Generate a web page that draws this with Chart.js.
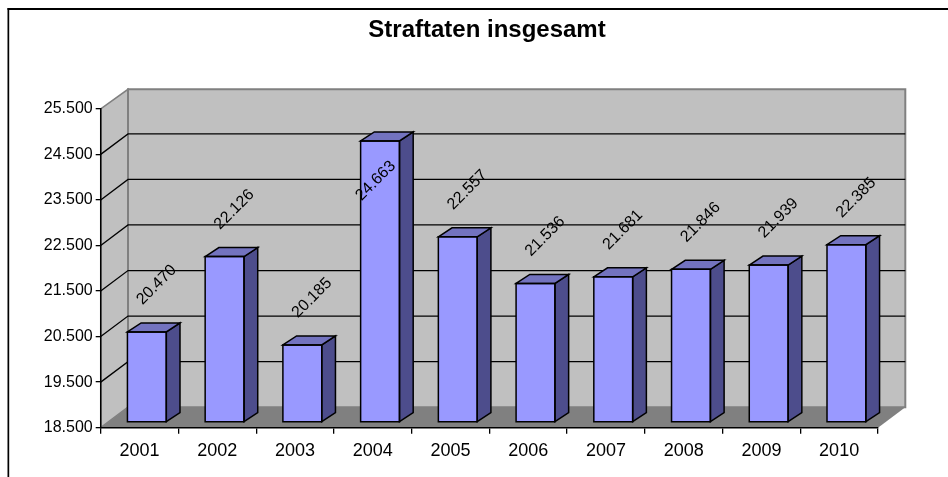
<!DOCTYPE html>
<html><head><meta charset="utf-8">
<style>html,body{margin:0;padding:0;background:#fff}#w{width:948px;height:477px}canvas{display:block}</style>
<script src="https://cdn.jsdelivr.net/npm/chart.js@4/dist/chart.umd.min.js"></script>
</head><body><div id="w"><canvas id="c" width="948" height="477"></canvas></div>
<script>
const titleText = "Straftaten insgesamt";
const years = ["2001","2002","2003","2004","2005","2006","2007","2008","2009","2010"];
const offences = [20470,22126,20185,24663,22557,21536,21681,21846,21939,22385];
const axisMin = 18500, axisMax = 25500, axisStep = 1000;

const fmt = v => String(v).replace(/(\d)(?=(\d{3})$)/, "$1.");
const WALL = {dx:27.3, dy:-20.5};
const BAR = {dx:7.3, dy:-6, sx:13.7, sy:-9};
const FONT = '"Liberation Sans", Arial, sans-serif';

function poly(ctx, pts, fill, stroke, lw){
  ctx.beginPath();
  pts.forEach((p,i)=> i?ctx.lineTo(p[0],p[1]):ctx.moveTo(p[0],p[1]));
  ctx.closePath();
  if(fill){ctx.fillStyle=fill;ctx.fill();}
  if(stroke){ctx.strokeStyle=stroke;ctx.lineWidth=lw||1;ctx.lineJoin='miter';ctx.stroke();}
}
const stage = {
  id:'stage',
  beforeDraw(chart){
    const {ctx,scales:{x,y}} = chart;
    const L=x.left,R=x.right,T=y.getPixelForValue(axisMax),B=y.getPixelForValue(axisMin);
    const {dx,dy}=WALL;
    const wallTop=T+dy+1;
    ctx.save();
    ctx.fillStyle='#000';
    ctx.fillRect(7.5,8,940.5,2);
    ctx.fillRect(7.5,8,1.7,469);
    poly(ctx,[[L,B],[L+dx,B+dy],[L+dx,wallTop],[L,T]],'#C0C0C0','#808080',1.5);
    poly(ctx,[[L+dx,B+dy],[L+dx,wallTop],[R+dx,wallTop],[R+dx,B+dy]],'#C0C0C0','#808080',2);
    poly(ctx,[[L,B],[L+dx,B+dy],[R+dx,B+dy],[R,B]],'#808080');
    ctx.strokeStyle='#000';ctx.lineWidth=1.3;
    for(let v=axisMin+axisStep;v<axisMax;v+=axisStep){
      const p=y.getPixelForValue(v);
      ctx.beginPath();ctx.moveTo(L,p);ctx.lineTo(L+dx,p+dy);ctx.lineTo(R+dx,p+dy);ctx.stroke();
    }
    ctx.restore();
  },
  beforeDatasetsDraw(chart){
    chart.ctx.save();
    chart.ctx.translate(BAR.dx,BAR.dy);
  },
  afterDatasetsDraw(chart){
    const {ctx}=chart;
    ctx.restore();
    const meta=chart.getDatasetMeta(0);
    const base=chart.scales.y.getPixelForValue(axisMin)+BAR.dy;
    const chartTop=chart.scales.y.getPixelForValue(axisMax);
    ctx.save();
    meta.data.forEach(b=>{
      const l=b.x-b.width/2+BAR.dx, r=b.x+b.width/2+BAR.dx, t=b.y+BAR.dy;
      const {sx,sy}=BAR;
      poly(ctx,[[r,t],[r+sx,t+sy],[r+sx,base+sy],[r,base]],'#4D4D8C','#000',1.5);
      poly(ctx,[[l,t],[l+sx,t+sy],[r+sx,t+sy],[r,t]],'#7373BF','#000',1.5);
      poly(ctx,[[l,t],[r,t],[r,base],[l,base]],null,'#000',1.5);
    });
    meta.data.forEach((b,i)=>{
      // a label that would leave the plot stays inside, over its bar
      const above=b.y+BAR.dy-47;
      const inside=above-30<chartTop;
      ctx.save();
      ctx.translate(inside?b.x+3:b.x+17, inside?b.y+BAR.dy+40:above);
      ctx.rotate(-Math.PI/4);
      ctx.font='16px '+FONT;
      ctx.fillStyle='#000';ctx.textAlign='center';ctx.textBaseline='middle';
      ctx.fillText(fmt(offences[i]),0,0);
      ctx.restore();
    });
    ctx.restore();
  }
};

new Chart(document.getElementById('c'),{
  type:'bar',
  data:{labels:years,datasets:[{data:offences,base:axisMin,clip:false,backgroundColor:'#9999FF',borderWidth:0,
        barPercentage:0.5,categoryPercentage:1}]},
  plugins:[stage],
  options:{
    responsive:false,animation:false,
    layout:{padding:{left:26,right:0,top:0,bottom:0}},
    plugins:{
      legend:{display:false},tooltip:{enabled:false},
      title:{display:true,text:titleText,color:'#000',font:{family:FONT,size:24,weight:'bold'},
             padding:{top:16,bottom:64}}
    },
    scales:{
      x:{type:'category',offset:true,
         afterFit:s=>{s.height=49.3;},
         grid:{display:true,offset:true,drawOnChartArea:false,drawTicks:true,tickLength:6,tickColor:'#000',color:'#000',lineWidth:1.3},
         border:{display:true,color:'#000',width:1.5},
         ticks:{color:'#000',font:{family:FONT,size:18},padding:7,maxRotation:0}},
      y:{type:'linear',min:axisMin,max:axisMax,
         afterFit:s=>{s.width=74.7;},
         grid:{display:true,drawOnChartArea:false,tickLength:5,tickColor:'#000',color:'#000',lineWidth:1.3},
         border:{display:true,color:'#000',width:1.5},
         ticks:{color:'#000',stepSize:axisStep,font:{family:FONT,size:16},padding:3,callback:v=>fmt(v)}},
      spacer:{type:'linear',position:'right',display:true,
         afterFit:s=>{s.width=70;},
         grid:{display:false},border:{display:false},ticks:{display:false}}
    }
  }
});
</script></body></html>
